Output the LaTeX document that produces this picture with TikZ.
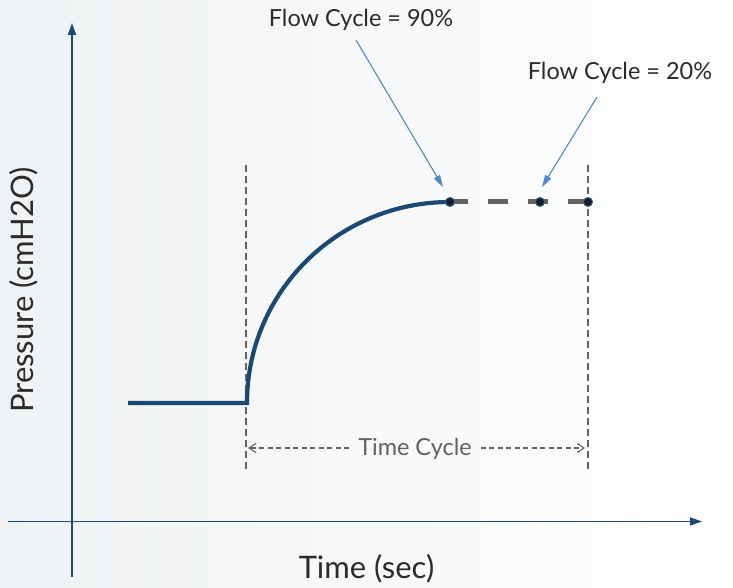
\documentclass[tikz,border=0pt]{standalone}
\usepackage{fontspec}
\setmainfont{Lato}
\usetikzlibrary{arrows.meta}
\definecolor{axisblue}{HTML}{1B4B76}
\definecolor{curveblue}{HTML}{1A4A74}
\definecolor{dashgray}{HTML}{626262}
\definecolor{annblue}{HTML}{4F88C6}
\definecolor{txt}{HTML}{2B2B2B}
\definecolor{dotfill}{HTML}{1C1C28}
\definecolor{dotedge}{HTML}{2F5F94}
\definecolor{bgl}{HTML}{EFF2F4}
\tikzset{
  axisline/.style={draw=axisblue, line width=1.6pt, -{Triangle[length=12pt,width=8pt]}},
  curveline/.style={draw=curveblue, line width=4.2pt},
  guide/.style={draw=dashgray, line width=1.2pt, dash pattern=on 7pt off 4pt},
  spanline/.style={draw=dashgray, line width=1.1pt, dash pattern=on 5pt off 3.5pt},
  spantip/.style={-{Straight Barb[length=7pt,width=9pt,line width=1.1pt]}},
  thickdash/.style={draw=dashgray, line width=5pt, dash pattern=on 20pt off 20pt},
  annarrow/.style={draw=annblue, line width=1.1pt, -{Triangle[length=12pt,width=7pt]}},
  flowdot/.style={circle, fill=dotfill, draw=dotedge, line width=0.9pt, minimum size=9pt, inner sep=0pt},
  bigtext/.style={font=\fontsize{31}{36}\selectfont, text=txt, inner sep=0pt},
  midtext/.style={font=\fontsize{23.5}{28}\selectfont, text=txt, inner sep=0pt},
}
\begin{document}
\begin{tikzpicture}[x=1pt,y=1pt]
\useasboundingbox (0,0) rectangle (733,587);
\shade[left color=bgl, right color=white] (0,0) rectangle (733,587);
% axes
\coordinate (yb) at (72,10);
\coordinate (yt) at (72,564);
\coordinate (xl) at (8,65.5);
\coordinate (xr) at (702,65.5);
\draw[axisline] (yb) -- (yt);
\draw[axisline] (xl) -- (xr);
% guides
\coordinate (g1t) at (246,422);
\coordinate (g1b) at (246,117);
\coordinate (g2t) at (588,422);
\coordinate (g2b) at (588,117);
\draw[guide] (g1t) -- (g1b);
\draw[guide] (g2t) -- (g2b);
% pressure curve
\coordinate (b0) at (128,184);
\coordinate (b1) at (247,184);
\draw[curveline] (b0) -- (b1) arc[start angle=180, end angle=90, x radius=203, y radius=201];
% thick dashed plateau
\coordinate (p0) at (448,385);
\coordinate (p1) at (588,385);
\draw[thickdash] (p0) -- (p1);
\node[flowdot] (d1) at (450,385) {};
\node[flowdot] (d2) at (540,385) {};
\node[flowdot] (d3) at (588,385) {};
% time cycle span
\node[midtext, text=dashgray, anchor=base, inner xsep=9pt] (tc) at (415,132) {Time Cycle};
\coordinate (sl) at (248,139);
\coordinate (sr) at (585,139);
\draw[spanline, spantip] (tc.west |- sl) -- (sl);
\draw[spanline, spantip] (tc.east |- sr) -- (sr);
% labels
\node[midtext, anchor=base] (f90) at (361,560) {Flow Cycle = 90\%};
\node[midtext, anchor=base] (f20) at (620,507) {Flow Cycle = 20\%};
\node[bigtext, anchor=base] (xlab) at (366.5,9) {Time (sec)};
\node[bigtext, anchor=base, rotate=90] (ylab) at (33,297) {Pressure (cmH2O)};
% annotation arrows
\coordinate (a1s) at (356,547);
\coordinate (a1e) at (443,400);
\coordinate (a2s) at (597,490);
\coordinate (a2e) at (542,400);
\draw[annarrow] (a1s) -- (a1e);
\draw[annarrow] (a2s) -- (a2e);
\end{tikzpicture}
\end{document}
